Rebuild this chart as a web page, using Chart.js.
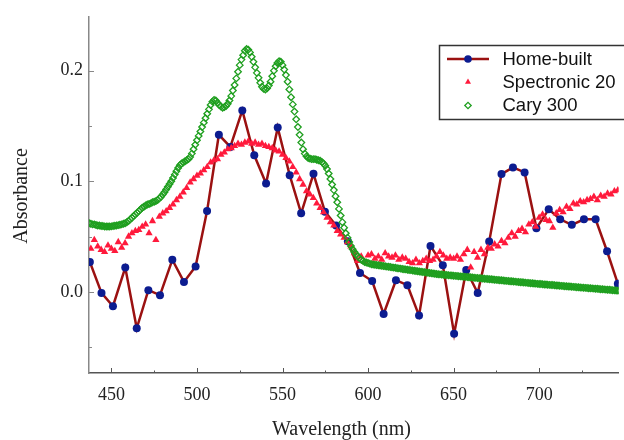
<!DOCTYPE html>
<html>
<head>
<meta charset="utf-8">
<script src="https://cdn.jsdelivr.net/npm/chart.js@4.4.1/dist/chart.umd.min.js"></script>
<style>
  html, body { margin: 0; padding: 0; background: #fff; }
  #wrap { width: 624px; height: 440px; position: relative; }
</style>
</head>
<body>
<div id="wrap"><canvas id="chart"></canvas></div>
<script>
// Home-built spectrometer, one reading every ~6.8 nm
const homeWavelengths = [437.4, 444.2, 450.9, 458.1, 464.8, 471.6, 478.4, 485.6, 492.4, 499.2,
  505.9, 512.8, 519.5, 526.5, 533.5, 540.4, 547.2, 554.2, 560.9, 568.1,
  574.8, 581.3, 588.2, 595.3, 602.4, 609.1, 616.3, 623.0, 629.8, 636.5,
  643.7, 650.3, 657.4, 664.1, 670.8, 678.0, 684.7, 691.5, 698.4, 705.6,
  712.3, 719.1, 726.2, 733.0, 739.7, 746.0];
const homeAbsorbance = [0.027, -0.001, -0.013, 0.022, -0.033, 0.0015, -0.003, 0.029, 0.009, 0.023,
  0.073, 0.142, 0.131, 0.164, 0.1235, 0.098, 0.1485, 0.1055, 0.071, 0.1067,
  0.0725, 0.060, 0.0457, 0.017, 0.0098, -0.020, 0.0105, 0.006, -0.0215, 0.0415,
  0.024, -0.038, 0.0197, -0.001, 0.0454, 0.1065, 0.1125, 0.108, 0.0576, 0.0746,
  0.0656, 0.0606, 0.0656, 0.0656, 0.0367, 0.0074];

// Spectronic 20, every 2 nm from 438 nm
const spec20Start = 438;
const spec20Step = 2;
const spec20Absorbance = [
  0.039, 0.047, 0.041, 0.038, 0.036, 0.042, 0.039, 0.037, 0.045, 0.040,
  0.044, 0.050, 0.053, 0.055, 0.056, 0.059, 0.061, 0.053, 0.064, 0.047,
  0.068, 0.071, 0.073, 0.076, 0.079, 0.083, 0.086, 0.090, 0.094, 0.099,
  0.102, 0.105, 0.107, 0.110, 0.113, 0.117, 0.119, 0.120, 0.124, 0.126,
  0.129, 0.130, 0.132, 0.134, 0.133, 0.135, 0.136, 0.134, 0.135, 0.133,
  0.134, 0.132, 0.131, 0.130, 0.128, 0.127, 0.124, 0.121, 0.118, 0.113,
  0.108, 0.102, 0.097, 0.091, 0.088, 0.085, 0.080, 0.076, 0.072, 0.067,
  0.063, 0.060, 0.055, 0.052, 0.049, 0.045, 0.041, 0.035, 0.028, 0.032,
  0.027, 0.033, 0.034, 0.030, 0.032, 0.029, 0.035, 0.032, 0.031, 0.033,
  0.029, 0.031, 0.030, 0.027, 0.026, 0.029, 0.026, 0.028, 0.030, 0.028,
  0.029, 0.032, 0.036, 0.033, 0.030, 0.031, 0.030, 0.032, 0.029, 0.034,
  0.038, 0.022, 0.036, 0.031, 0.038, 0.034, 0.040, 0.039, 0.043, 0.041,
  0.046, 0.044, 0.049, 0.053, 0.050, 0.055, 0.057, 0.054, 0.061, 0.063,
  0.059, 0.067, 0.070, 0.065, 0.064, 0.058, 0.071, 0.074, 0.072, 0.077,
  0.075, 0.080, 0.079, 0.082, 0.081, 0.083, 0.084, 0.086, 0.083, 0.087,
  0.086, 0.089, 0.088, 0.091, 0.092];

// Cary 300, every 1 nm from 437 nm
const caryStart = 437;
const caryAbsorbance = [
  0.0620, 0.0615, 0.0610, 0.0610, 0.0605, 0.0600, 0.0600, 0.0595, 0.0595, 0.0590,   // 437-446
  0.0590, 0.0590, 0.0590, 0.0592, 0.0595, 0.0598, 0.0600, 0.0603, 0.0606, 0.0610,   // 447-456
  0.0615, 0.0620, 0.0630, 0.0640, 0.0655, 0.0670, 0.0685, 0.0700, 0.0715, 0.0730,   // 457-466
  0.0745, 0.0760, 0.0770, 0.0780, 0.0790, 0.0795, 0.0800, 0.0810, 0.0815, 0.0820,   // 467-476
  0.0830, 0.0845, 0.0860, 0.0880, 0.0900, 0.0925, 0.0950, 0.0975, 0.1000, 0.1030,   // 477-486
  0.1060, 0.1090, 0.1120, 0.1145, 0.1160, 0.1170, 0.1180, 0.1190, 0.1200, 0.1220,   // 487-496
  0.1250, 0.1290, 0.1330, 0.1370, 0.1410, 0.1450, 0.1490, 0.1530, 0.1570, 0.1610,   // 497-506
  0.1650, 0.1690, 0.1720, 0.1735, 0.1730, 0.1710, 0.1690, 0.1675, 0.1665, 0.1670,   // 507-516
  0.1680, 0.1700, 0.1730, 0.1770, 0.1820, 0.1870, 0.1930, 0.1990, 0.2050, 0.2100,   // 517-526
  0.2140, 0.2180, 0.2195, 0.2190, 0.2165, 0.2125, 0.2080, 0.2030, 0.1980, 0.1935,   // 527-536
  0.1890, 0.1855, 0.1835, 0.1830, 0.1840, 0.1865, 0.1900, 0.1950, 0.2000, 0.2040,   // 537-546
  0.2070, 0.2085, 0.2080, 0.2050, 0.2010, 0.1960, 0.1900, 0.1830, 0.1760, 0.1695,   // 547-556
  0.1630, 0.1560, 0.1490, 0.1420, 0.1350, 0.1290, 0.1250, 0.1225, 0.1210, 0.1205,   // 557-566
  0.1200, 0.1200, 0.1200, 0.1195, 0.1190, 0.1185, 0.1175, 0.1160, 0.1140, 0.1110,   // 567-576
  0.1070, 0.1020, 0.0970, 0.0920, 0.0865, 0.0810, 0.0750, 0.0690, 0.0630, 0.0580,   // 577-586
  0.0530, 0.0490, 0.0450, 0.0415, 0.0385, 0.0360, 0.0340, 0.0320, 0.0305, 0.0290,   // 587-596
  0.0280, 0.0270, 0.0265, 0.0260, 0.0255, 0.0250, 0.0247, 0.0245, 0.0242, 0.0240,   // 597-606
  0.0238, 0.0235, 0.0233, 0.0231, 0.0228, 0.0226, 0.0224, 0.0221, 0.0219, 0.0217,   // 607-616
  0.0214, 0.0212, 0.0210, 0.0207, 0.0205, 0.0203, 0.0200, 0.0198, 0.0196, 0.0193,   // 617-626
  0.0191, 0.0189, 0.0186, 0.0184, 0.0182, 0.0179, 0.0177, 0.0175, 0.0172, 0.0170,   // 627-636
  0.0168, 0.0165, 0.0163, 0.0161, 0.0159, 0.0158, 0.0156, 0.0155, 0.0153, 0.0152,   // 637-646
  0.0150, 0.0149, 0.0147, 0.0146, 0.0144, 0.0143, 0.0141, 0.0140, 0.0138, 0.0137,   // 647-656
  0.0135, 0.0134, 0.0132, 0.0131, 0.0129, 0.0128, 0.0126, 0.0125, 0.0123, 0.0122,   // 657-666
  0.0120, 0.0119, 0.0117, 0.0116, 0.0114, 0.0113, 0.0111, 0.0110, 0.0108, 0.0107,   // 667-676
  0.0105, 0.0104, 0.0102, 0.0101, 0.0099, 0.0098, 0.0096, 0.0095, 0.0093, 0.0092,   // 677-686
  0.0090, 0.0089, 0.0087, 0.0086, 0.0084, 0.0083, 0.0081, 0.0080, 0.0078, 0.0077,   // 687-696
  0.0075, 0.0074, 0.0072, 0.0071, 0.0070, 0.0068, 0.0067, 0.0066, 0.0064, 0.0063,   // 697-706
  0.0062, 0.0061, 0.0059, 0.0058, 0.0057, 0.0055, 0.0054, 0.0053, 0.0051, 0.0050,   // 707-716
  0.0049, 0.0048, 0.0046, 0.0045, 0.0044, 0.0042, 0.0041, 0.0040, 0.0038, 0.0037,   // 717-726
  0.0036, 0.0035, 0.0033, 0.0032, 0.0031, 0.0029, 0.0028, 0.0027, 0.0025, 0.0024,   // 727-736
  0.0023, 0.0022, 0.0020, 0.0019, 0.0018, 0.0016, 0.0015, 0.0014, 0.0012, 0.0011,   // 737-746
  0.0010];

const seriesNames = ['Home-built', 'Spectronic 20', 'Cary 300'];
const xMajorTicks = [450, 500, 550, 600, 650, 700];
const xMinorTicks = [475, 525, 575, 625, 675, 725];
const yMajorTicks = [0, 0.1, 0.2];
const yMinorTicks = [-0.05, 0.05, 0.15];

const serif = '"Liberation Serif", "Times New Roman", serif';
const sans = '"Liberation Sans", Arial, sans-serif';

const homePoints = homeWavelengths.map((w, i) => ({ x: w, y: homeAbsorbance[i] }));
const spec20Points = spec20Absorbance.map((v, i) => ({ x: spec20Start + i * spec20Step, y: v }));
const caryPoints = caryAbsorbance.map((v, i) => ({ x: caryStart + i, y: v }));

const homeStyle = { line: '#9b1111', dot: '#0c1c90' };
const specColor = '#ff1a3c';
const caryColor = '#1f9f1f';

// inward tick marks, axis titles and the boxed legend
const decor = {
  id: 'decor',
  afterDraw(chart) {
    const { ctx, chartArea: a, scales: { x, y } } = chart;
    ctx.save();
    ctx.strokeStyle = '#555';
    ctx.lineWidth = 1;
    const seg = (x1, y1, x2, y2) => { ctx.beginPath(); ctx.moveTo(x1, y1); ctx.lineTo(x2, y2); ctx.stroke(); };
    xMajorTicks.forEach(v => { const p = Math.round(x.getPixelForValue(v)) + 0.5; seg(p, a.bottom, p, a.bottom - 5); });
    xMinorTicks.forEach(v => { const p = Math.round(x.getPixelForValue(v)) + 0.5; seg(p, a.bottom, p, a.bottom - 2.5); });
    ctx.strokeStyle = '#888';
    yMajorTicks.forEach(v => { const p = Math.round(y.getPixelForValue(v)) + 0.5; seg(a.left, p, a.left + 5, p); });
    yMinorTicks.forEach(v => { const p = Math.round(y.getPixelForValue(v)) + 0.5; seg(a.left, p, a.left + 3, p); });

    // axis titles
    ctx.fillStyle = '#222';
    ctx.font = '20px ' + serif;
    ctx.textAlign = 'center';
    ctx.textBaseline = 'alphabetic';
    ctx.fillText('Wavelength (nm)', 341.5, 435);
    ctx.save();
    ctx.translate(27, 196);
    ctx.rotate(-Math.PI / 2);
    ctx.fillText('Absorbance', 0, 0);
    ctx.restore();

    // legend
    const lx = 439.5, ly = 45.5, lw = 200, lh = 74;
    ctx.fillStyle = '#fff';
    ctx.fillRect(lx, ly, lw, lh);
    ctx.strokeStyle = '#333';
    ctx.lineWidth = 1.5;
    ctx.strokeRect(lx, ly, lw, lh);
    const rows = [59, 82, 105.5];
    const sx = 468;
    ctx.strokeStyle = homeStyle.line;
    ctx.lineWidth = 2.5;
    seg(447, rows[0], 489, rows[0]);
    ctx.fillStyle = homeStyle.dot;
    Chart.helpers.drawPoint(ctx, { pointStyle: 'circle', radius: 3.8, borderWidth: 0 }, sx, rows[0]);
    ctx.fillStyle = specColor;
    Chart.helpers.drawPoint(ctx, { pointStyle: 'triangle', radius: 3.5, borderWidth: 0 }, sx, rows[1]);
    ctx.strokeStyle = caryColor;
    ctx.fillStyle = '#fff';
    ctx.lineWidth = 1.3;
    Chart.helpers.drawPoint(ctx, { pointStyle: 'rectRot', radius: 3.2, borderWidth: 1.3 }, sx, rows[2]);
    ctx.fillStyle = '#111';
    ctx.font = '18.5px ' + sans;
    ctx.textAlign = 'left';
    ctx.textBaseline = 'middle';
    seriesNames.forEach((n, i) => ctx.fillText(n, 502.5, rows[i] + 0.5));
    ctx.restore();
  }
};

new Chart(document.getElementById('chart'), {
  type: 'scatter',
  data: {
    datasets: [
      {
        label: seriesNames[2],
        data: caryPoints,
        order: 0,
        showLine: false,
        pointStyle: 'rectRot',
        pointRadius: 3.3,
        pointBorderWidth: 1.3,
        pointBorderColor: caryColor,
        pointBackgroundColor: 'rgba(0,0,0,0)'
      },
      {
        label: seriesNames[1],
        data: spec20Points,
        order: 1,
        showLine: false,
        pointStyle: 'triangle',
        pointRadius: 4.2,
        pointBorderWidth: 0,
        pointBackgroundColor: specColor,
        pointBorderColor: specColor
      },
      {
        label: seriesNames[0],
        data: homePoints,
        order: 2,
        showLine: true,
        borderColor: homeStyle.line,
        borderWidth: 2.5,
        pointStyle: 'circle',
        pointRadius: 4,
        pointBorderWidth: 0,
        pointBackgroundColor: homeStyle.dot,
        pointBorderColor: homeStyle.dot
      }
    ]
  },
  options: {
    responsive: true,
    maintainAspectRatio: false,
    animation: false,
    layout: { padding: { top: 13, right: 0, bottom: 0, left: 0 } },
    plugins: { legend: { display: false }, tooltip: { enabled: false } },
    scales: {
      x: {
        type: 'linear',
        min: 436.9,
        max: 746.5,
        afterBuildTicks: s => { s.ticks = xMajorTicks.map(v => ({ value: v })); },
        afterFit: s => { s.height = 67; },
        grid: { display: false, drawTicks: false },
        border: { display: true, color: '#555', width: 1.5 },
        ticks: { color: '#222', padding: 11, maxRotation: 0, font: { family: serif, size: 18 } }
      },
      y: {
        type: 'linear',
        min: -0.0734,
        max: 0.2487,
        afterBuildTicks: s => { s.ticks = yMajorTicks.map(v => ({ value: v })); },
        afterFit: s => { s.width = 89; },
        grid: { display: false, drawTicks: false },
        border: { display: true, color: '#888', width: 1.5 },
        ticks: { color: '#222', padding: 6, font: { family: serif, size: 18 }, callback: v => v.toFixed(1) }
      }
    }
  },
  plugins: [decor]
});
</script>
</body>
</html>
